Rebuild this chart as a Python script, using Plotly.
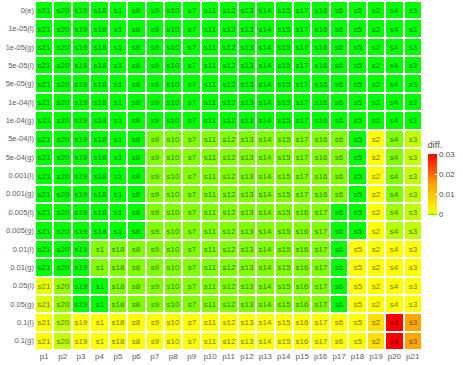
import plotly.graph_objects as go

# Eixos
params = ["p%d" % i for i in range(1, 22)]
rows = ["0(e)", "1e-05(l)", "1e-05(g)", "5e-05(l)", "5e-05(g)", "1e-04(l)", "1e-04(g)",
        "5e-04(l)", "5e-04(g)", "0.001(l)", "0.001(g)", "0.005(l)", "0.005(g)",
        "0.01(l)", "0.01(g)", "0.05(l)", "0.05(g)", "0.1(l)", "0.1(g)"]

# Ordem das séries em cada linha
order_a = ["s21", "s20", "s19", "s18", "s1", "s8", "s9", "s10", "s7", "s11", "s12",
           "s13", "s14", "s15", "s17", "s16", "s6", "s5", "s2", "s4", "s3"]
order_b = ["s21", "s20", "s19", "s18", "s1", "s8", "s9", "s10", "s7", "s11", "s12",
           "s13", "s14", "s15", "s16", "s17", "s6", "s5", "s2", "s4", "s3"]
order_c = ["s21", "s20", "s19", "s1", "s18", "s8", "s9", "s10", "s7", "s11", "s12",
           "s13", "s14", "s15", "s16", "s17", "s6", "s5", "s2", "s4", "s3"]
labels = [order_a] * 11 + [order_b] * 2 + [order_c] * 6

# diff. (estimado pelas cores)
diff = [
    [0, 0, 0, 0, 0, 0, 0, 0, 0, 0, 0, 0, 0, 0, 0, 0, 0, 0, 0, 0, 0],
    [0, 0, 0, 0, 0, 0, 0, 0, 0, 0, 0, 0, 0, 0, 0, 0, 0, 0, 0, 0, 0],
    [0, 0, 0, 0, 0, 0, 0, 0, 0, 0, 0, 0, 0, 0, 0, 0, 0, 0, 0, 0, 0],
    [0, 0, 0, 0, 0, 0, 0, 0, 0, 0, 0, 0, 0, 0, 0, 0, 0, 0, 0, 0, 0],
    [0, 0, 0, 0, 0, 0, 0, 0, 0, 0, 0, 0, 0, 0, 0, 0, 0, 0, 0, 0, 0],
    [0, 0, 0, 0, 0, 0, 0, 0, 0, 0, 0, 0, 0, 0, 0, 0, 0, 0, 0, 0, 0],
    [0, 0, 0, 0, 0, 0, 0, 0, 0, 0, 0, 0, 0, 0, 0, 0, 0, 0, 0, 0, 0],
    [0, 0, 0, 0, 0, 0, 0.0003, 0.0003, 0.0003, 0.0003, 0.0003, 0.0003, 0.0003, 0.0003, 0.0003, 0.0003, 0.0003, 0, 0.0009, 0.0003, 0.0006],
    [0, 0, 0, 0, 0, 0, 0.0003, 0.0003, 0.0003, 0.0003, 0.0003, 0.0003, 0.0003, 0.0003, 0.0003, 0.0003, 0.0003, 0, 0.0009, 0.0003, 0.0006],
    [0, 0, 0, 0, 0, 0, 0.0003, 0.0003, 0.0003, 0.0003, 0.0003, 0.0003, 0.0003, 0.0003, 0.0003, 0.0003, 0.0003, 0, 0.0009, 0.0003, 0.0006],
    [0, 0, 0, 0, 0, 0, 0.0003, 0.0003, 0.0003, 0.0003, 0.0003, 0.0003, 0.0003, 0.0003, 0.0003, 0.0003, 0.0003, 0, 0.0009, 0.0003, 0.0006],
    [0, 0, 0, 0, 0, 0, 0.0003, 0.0003, 0.0003, 0.0003, 0.0003, 0.0003, 0.0003, 0.0003, 0.0003, 0.0003, 0, 0, 0.0009, 0.00045, 0.0006],
    [0, 0, 0, 0, 0, 0, 0.0003, 0.0003, 0.0003, 0.0003, 0.0003, 0.0003, 0.0003, 0.0003, 0.0003, 0.0003, 0, 0, 0.0009, 0.00055, 0.0006],
    [0, 0, 0, 0.0003, 0.0003, 0.0003, 0.0003, 0.0003, 0.0003, 0.0003, 0.0003, 0.0003, 0.0003, 0.0003, 0.0003, 0.0003, 0, 0.0009, 0.0009, 0.0009, 0.0009],
    [0, 0, 0, 0.0003, 0.0003, 0.0003, 0.0003, 0.0003, 0.0003, 0.0003, 0.0003, 0.0003, 0.0003, 0.0003, 0.0003, 0.0003, 0, 0.0009, 0.0009, 0.0009, 0.0009],
    [0.00078, 0.0004, 0, 0, 0.0003, 0.0003, 0.0003, 0.0003, 0.0003, 0.0003, 0.0003, 0.0003, 0.0003, 0.0003, 0.0003, 0.0003, 0, 0.0009, 0.0009, 0.0009, 0.0009],
    [0.00074, 0.0004, 0, 0, 0.0003, 0.0003, 0.0003, 0.0003, 0.0003, 0.0003, 0.0003, 0.0003, 0.0003, 0.0003, 0.0003, 0.0003, 0, 0.0009, 0.0009, 0.0009, 0.0009],
    [0.0009, 0.0006, 0.0009, 0.0009, 0.00088, 0.0009, 0.0009, 0.0009, 0.0009, 0.0009, 0.0009, 0.0009, 0.0009, 0.0009, 0.0009, 0.0009, 0.0009, 0.0009, 0.0058, 0.0302, 0.015],
    [0.0009, 0.0006, 0.0009, 0.0009, 0.00088, 0.0009, 0.0009, 0.0009, 0.0009, 0.0009, 0.0009, 0.0009, 0.0009, 0.0009, 0.0009, 0.0009, 0.0009, 0.0009, 0.0058, 0.0302, 0.015],
]

zmax = 0.0302
escala = [
    [0.0, "#00FF00"],
    [0.0003 / zmax, "#80FF00"],
    [0.0009 / zmax, "#FFFF00"],
    [0.015 / zmax, "#FFA500"],
    [1.0, "#FF0000"],
]

fig = go.Figure(go.Heatmap(
    z=diff, x=params, y=rows,
    text=labels, texttemplate="%{text}",
    textfont=dict(size=8, color="rgba(0,0,0,0.6)", family="Liberation Sans, Arial"),
    colorscale=escala, zmin=0, zmax=zmax,
    xgap=2, ygap=2,
    colorbar=dict(
        title=dict(text="diff.", side="top", font=dict(size=9, color="#4d4d4d")),
        x=1.015, xanchor="left", xpad=0,
        y=0.606, yanchor="top", ypad=0,
        len=76, lenmode="pixels",
        thickness=9, outlinewidth=0,
        tickvals=[0, 0.01, 0.02, 0.03], ticktext=["0", "0.01", "0.02", "0.03"],
        ticks="inside", tickcolor="white", ticklen=2,
        tickfont=dict(size=8, color="#4d4d4d"),
    ),
))

fig.update_layout(
    width=463, height=365,
    margin=dict(l=35, r=41, t=1, b=15, autoexpand=False),
    plot_bgcolor="white", paper_bgcolor="white",
    font=dict(family="Liberation Sans, Arial"),
    xaxis=dict(showgrid=False, zeroline=False, ticks="", automargin=False,
               tickfont=dict(size=8, color="#5a5a5a")),
    yaxis=dict(showgrid=False, zeroline=False, ticks="", autorange="reversed", automargin=False,
               tickfont=dict(size=7.5, color="#5a5a5a")),
)

# tira a margem padrão do <body> para a figura ficar no canto
fig.write_html("out.html", config={"displayModeBar": False},
               post_script="document.body.style.margin='0';")
